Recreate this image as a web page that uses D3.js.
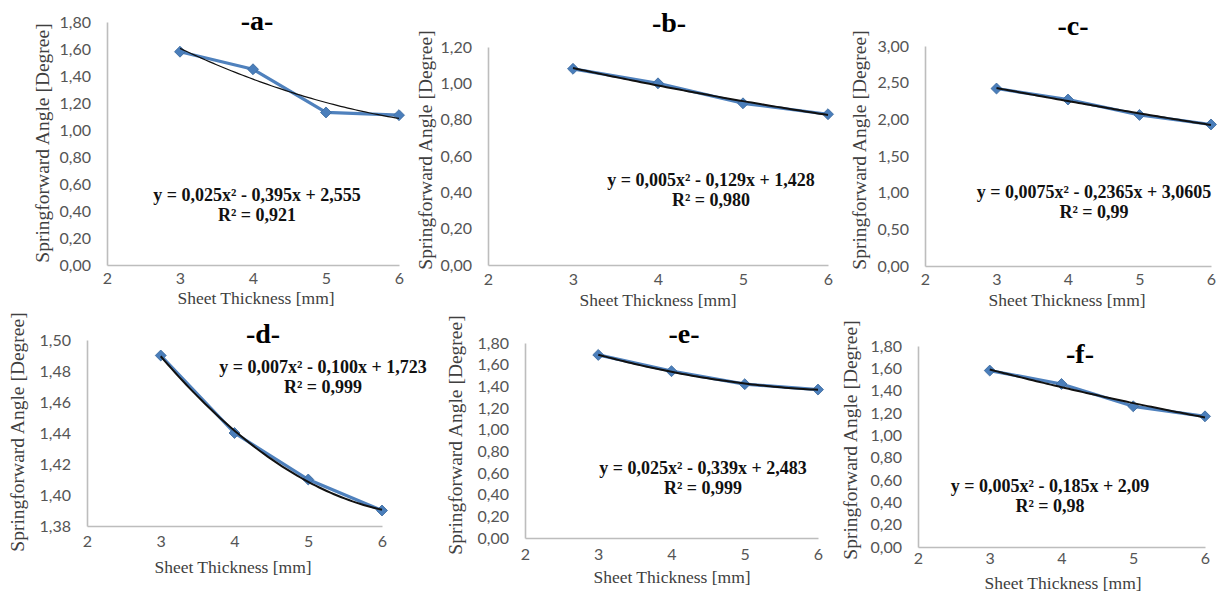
<!DOCTYPE html>
<html>
<head>
<meta charset="utf-8">
<script src="https://cdn.jsdelivr.net/npm/d3@7"></script>
<style>
  body { margin: 0; background: #fff; }
  svg { display: block; }
</style>
</head>
<body>
<svg id="chart" width="1225" height="595"></svg>
<script>
// Sheet thickness (mm) on the x axis, same for all six panels
var thickness = [3, 4, 5, 6];
var xTicks = [2, 3, 4, 5, 6];

// Springforward angle (degree) for each panel
var angleA = [1.58, 1.45, 1.13, 1.11];
var angleB = [1.08, 1.00, 0.89, 0.83];
var angleC = [2.42, 2.27, 2.06, 1.93];
var angleD = [1.49, 1.44, 1.41, 1.39];
var angleE = [1.69, 1.54, 1.42, 1.37];
var angleF = [1.58, 1.46, 1.26, 1.17];

// Y tick labels of each panel
var yTicksA = [0, 0.2, 0.4, 0.6, 0.8, 1.0, 1.2, 1.4, 1.6, 1.8];
var yTicksB = [0, 0.2, 0.4, 0.6, 0.8, 1.0, 1.2];
var yTicksC = [0, 0.5, 1.0, 1.5, 2.0, 2.5, 3.0];
var yTicksD = [1.38, 1.40, 1.42, 1.44, 1.46, 1.48, 1.50];
var yTicksE = [0, 0.2, 0.4, 0.6, 0.8, 1.0, 1.2, 1.4, 1.6, 1.8];
var yTicksF = [0, 0.2, 0.4, 0.6, 0.8, 1.0, 1.2, 1.4, 1.6, 1.8];

// Trendline labels
var equations = [
    "y = 0,025x² - 0,395x + 2,555",
    "y = 0,005x² - 0,129x + 1,428",
    "y = 0,0075x² - 0,2365x + 3,0605",
    "y = 0,007x² - 0,100x + 1,723",
    "y = 0,025x² - 0,339x + 2,483",
    "y = 0,005x² - 0,185x + 2,09"
];
var rSquared = ["R² = 0,921", "R² = 0,980", "R² = 0,99", "R² = 0,999", "R² = 0,999", "R² = 0,98"];
var titles = ["-a-", "-b-", "-c-", "-d-", "-e-", "-f-"];

// Panel placement (pixels): x range of axis, y range of axis, text anchors
var panels = [
    { v: angleA, ticks: yTicksA, x0: 107, x1: 399, yTop: 22,  yBot: 265, title: [257, 20],  eq: [257, 195], yt: [42, 143],  xt: [256, 298], xl: 282, trendW: 1.2 },
    { v: angleB, ticks: yTicksB, x0: 488, x1: 828, yTop: 47,  yBot: 265, title: [669, 22],  eq: [711, 180], yt: [425, 150], xt: [658, 300], xl: 283, trendW: 2 },
    { v: angleC, ticks: yTicksC, x0: 925, x1: 1211, yTop: 46, yBot: 266, title: [1073, 25], eq: [1094, 192], yt: [859, 150], xt: [1067, 300], xl: 283, trendW: 2 },
    { v: angleD, ticks: yTicksD, x0: 87,  x1: 382, yTop: 340, yBot: 526, title: [263, 333], eq: [323, 367], yt: [17, 432],  xt: [233, 567], xl: 545, trendW: 2 },
    { v: angleE, ticks: yTicksE, x0: 525, x1: 818, yTop: 343, yBot: 538, title: [684, 333], eq: [703, 468], yt: [455, 435], xt: [672, 577], xl: 558, trendW: 2 },
    { v: angleF, ticks: yTicksF, x0: 918, x1: 1205, yTop: 346, yBot: 547, title: [1080, 353], eq: [1050, 486], yt: [850, 440], xt: [1063, 583], xl: 562, trendW: 2 }
];

var commaFmt = d3.formatLocale({ decimal: ",", thousands: ".", grouping: [3], currency: ["", ""] }).format(".2f");
var sansFont = "Lato, 'Open Sans', sans-serif";
var serifFont = "'Liberation Serif', 'DejaVu Serif', serif";

// Least squares quadratic fit, like Excel's polynomial trendline
function quadFit(xs, ys)
{
    var n = xs.length, s = [0, 0, 0, 0, 0], t = [0, 0, 0];
    for (var i = 0; i < n; ++i)
    {
        var p = 1;
        for (var k = 0; k < 5; ++k) { s[k] += p; if (k < 3) t[k] += p * ys[i]; p *= xs[i]; }
    }
    // solve 3x3 system with Cramer's rule
    var m = [[s[0], s[1], s[2]], [s[1], s[2], s[3]], [s[2], s[3], s[4]]];
    function det(a) {
        return a[0][0] * (a[1][1] * a[2][2] - a[1][2] * a[2][1])
             - a[0][1] * (a[1][0] * a[2][2] - a[1][2] * a[2][0])
             + a[0][2] * (a[1][0] * a[2][1] - a[1][1] * a[2][0]);
    }
    var D = det(m), c = [];
    for (var j = 0; j < 3; ++j)
    {
        var mj = m.map(function(row, r) { var q = row.slice(); q[j] = t[r]; return q; });
        c.push(det(mj) / D);
    }
    return function(x) { return c[0] + c[1] * x + c[2] * x * x; };
}

var svg = d3.select("#chart");

panels.forEach(function(p, idx)
{
    var g = svg.append("g");
    var x = d3.scaleLinear().domain([2, 6]).range([p.x0, p.x1]);
    var y = d3.scaleLinear().domain([p.ticks[0], p.ticks[p.ticks.length - 1]]).range([p.yBot, p.yTop]);

    // axes
    var yAxis = g.append("g").attr("transform", "translate(" + p.x0 + ",0)")
        .call(d3.axisLeft(y).tickValues(p.ticks).tickSize(0).tickPadding(16).tickFormat(commaFmt));
    var xAxis = g.append("g").attr("transform", "translate(0," + p.yBot + ")")
        .call(d3.axisBottom(x).tickValues(xTicks).tickSize(0).tickPadding(p.xl - p.yBot - 9).tickFormat(d3.format("d")));
    [yAxis, xAxis].forEach(function(a) {
        a.select(".domain").attr("stroke", "#bdbdbd").attr("stroke-width", 1.6);
        a.selectAll("text").attr("fill", "#555").style("font-family", sansFont).style("font-size", "16px");
    });

    // data line and markers
    var pts = thickness.map(function(t, i) { return [t, p.v[i]]; });
    g.append("path").datum(pts)
        .attr("fill", "none").attr("stroke", "#4F81BD").attr("stroke-width", 3.2).attr("stroke-linejoin", "round")
        .attr("d", d3.line().x(function(d) { return x(d[0]); }).y(function(d) { return y(d[1]); }));
    g.selectAll(".mk").data(pts).enter().append("path")
        .attr("transform", function(d) { return "translate(" + x(d[0]) + "," + y(d[1]) + ") rotate(45)"; })
        .attr("d", d3.symbol().type(d3.symbolSquare).size(60))
        .attr("fill", "#4A7EBB").attr("stroke", "#3C6A9E").attr("stroke-width", 0.8);

    // polynomial trendline
    var f = quadFit(thickness, p.v);
    var curve = d3.range(3, 6.0001, 0.05).map(function(t) { return [t, f(t)]; });
    g.append("path").datum(curve)
        .attr("fill", "none").attr("stroke", "#111").attr("stroke-width", p.trendW)
        .attr("d", d3.line().x(function(d) { return x(d[0]); }).y(function(d) { return y(d[1]); }));

    // texts
    g.append("text").attr("x", p.title[0]).attr("y", p.title[1]).attr("text-anchor", "middle")
        .attr("dominant-baseline", "central").style("font-family", serifFont).style("font-weight", "bold")
        .style("font-size", "28px").text(titles[idx]);
    g.append("text").attr("x", p.eq[0]).attr("y", p.eq[1]).attr("text-anchor", "middle")
        .attr("dominant-baseline", "central").style("font-family", serifFont).style("font-weight", "bold")
        .style("font-size", "18px").attr("fill", "#111").text(equations[idx]);
    g.append("text").attr("x", p.eq[0]).attr("y", p.eq[1] + 20).attr("text-anchor", "middle")
        .attr("dominant-baseline", "central").style("font-family", serifFont).style("font-weight", "bold")
        .style("font-size", "18px").attr("fill", "#111").text(rSquared[idx]);
    g.append("text").attr("transform", "translate(" + p.yt[0] + "," + p.yt[1] + ") rotate(-90)")
        .attr("text-anchor", "middle").attr("dominant-baseline", "central")
        .style("font-family", serifFont).style("font-size", "19.5px").attr("fill", "#404040")
        .text("Springforward Angle [Degree]");
    g.append("text").attr("x", p.xt[0]).attr("y", p.xt[1]).attr("text-anchor", "middle")
        .attr("dominant-baseline", "central").style("font-family", serifFont).style("font-size", "17.5px")
        .attr("fill", "#404040").text("Sheet Thickness [mm]");
});
</script>
</body>
</html>
